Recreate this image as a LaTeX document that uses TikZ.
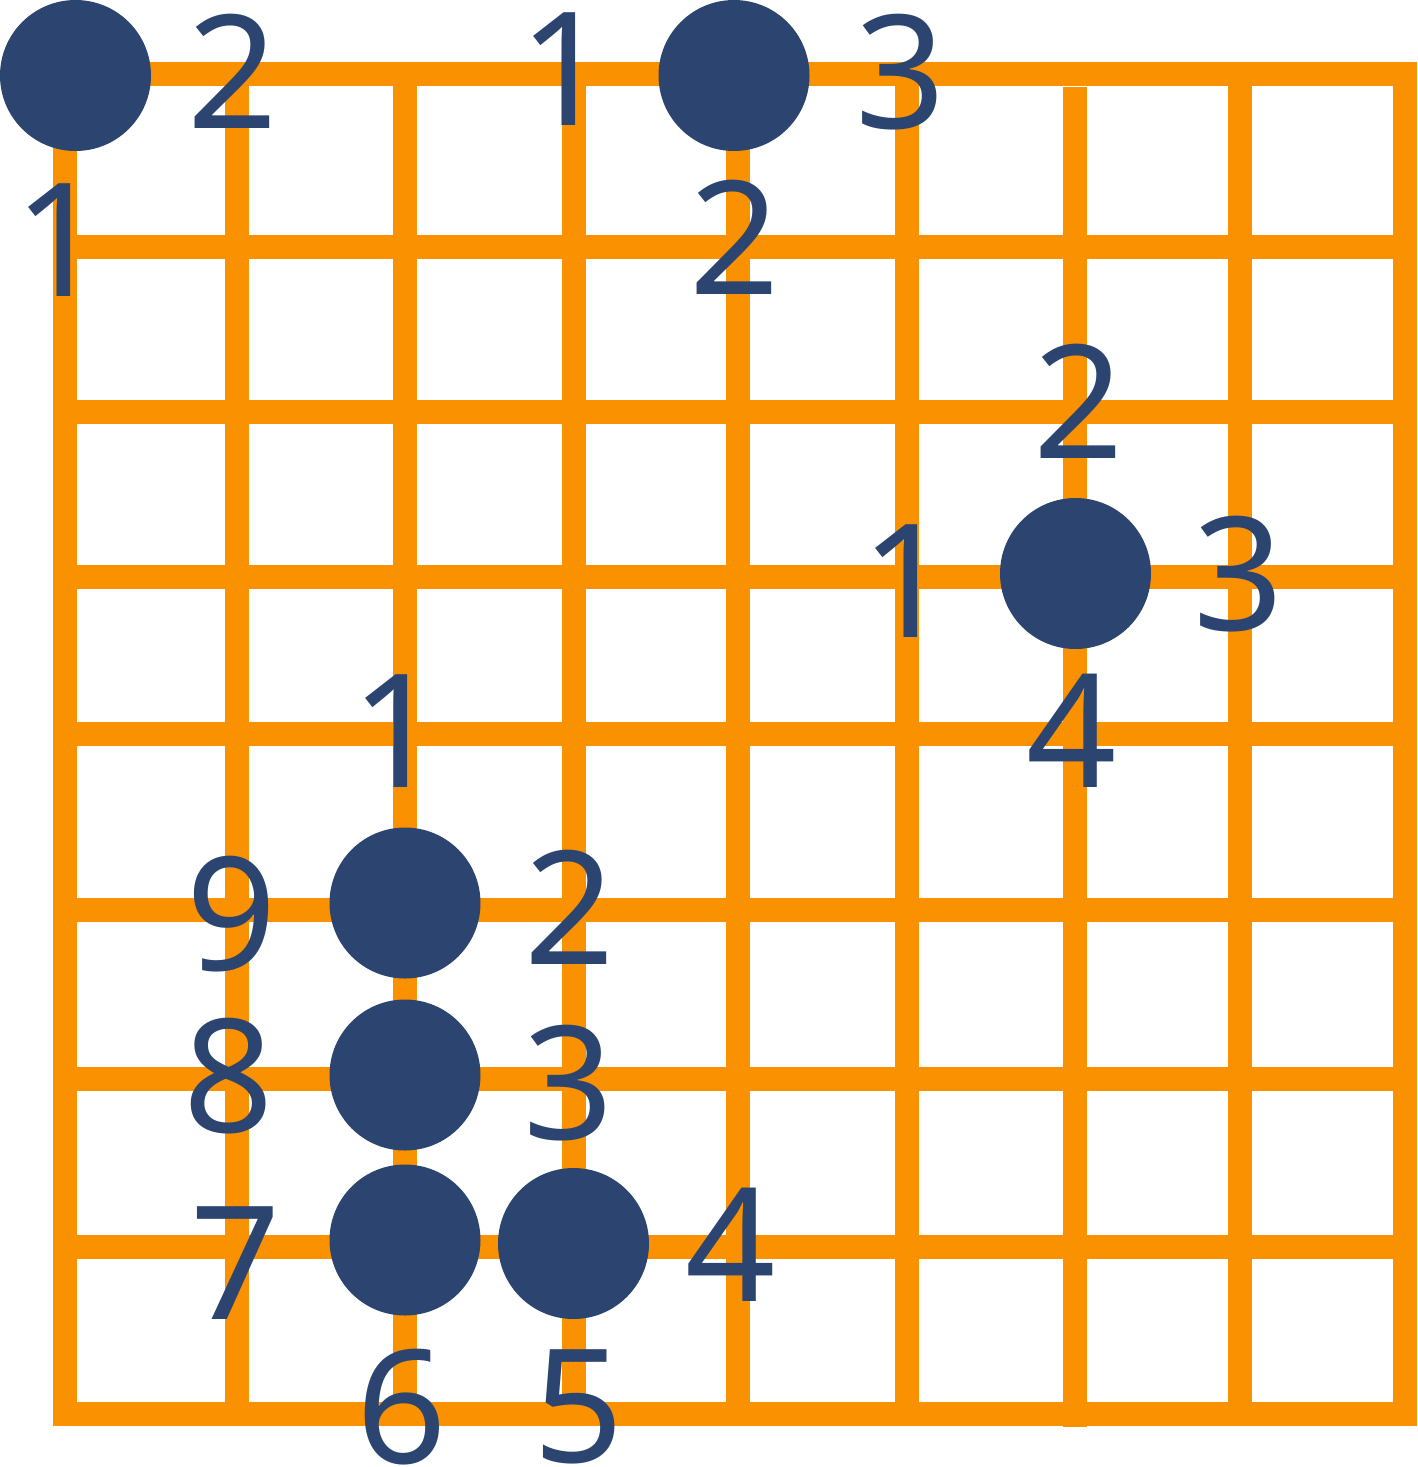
\documentclass[tikz,border=0pt]{standalone}
\usepackage{fontspec}
\setmainfont{Noto Sans}
\definecolor{gridorange}{RGB}{250,145,0}
\definecolor{stonenavy}{RGB}{44,68,112}
\begin{document}
\begin{tikzpicture}[x=1pt,y=-1pt,
  gridline/.style={draw=gridorange,line width=24pt},
  stone/.style={circle,fill=stonenavy,minimum size=151pt,inner sep=0pt,outer sep=0pt},
  lib/.style={text=stonenavy,font=\fontsize{158}{158}\selectfont,inner sep=0pt,outer sep=0pt},
  libone/.style={lib,xshift=5pt}]
\useasboundingbox (0,0) rectangle (1417,1467);
% board lines
\foreach \y in {74,247,412,577,734,910,1079,1247,1414}
  \draw[gridline] (53,\y) -- (1417,\y);
\foreach \x in {65,236.5,405,573.5,738,907,1240,1405}
  \draw[gridline] (\x,62) -- (\x,1426);
\draw[gridline] (1075,87) -- (1075,1427);
% stones
\node[stone] (sA) at (75.5,75.5) {};
\node[stone] (sB) at (734,75.5) {};
\node[stone] (sC) at (1075.5,573.5) {};
\node[stone] (sD) at (405,903) {};
\node[stone] (sE) at (405,1075) {};
\node[stone] (sF) at (405,1240) {};
\node[stone] (sG) at (573.5,1243.5) {};
% liberties of stone A
\node[libone] (a1) at (55,240) {1};
\node[lib] (a2) at (233,71.5) {2};
% liberties of stone B
\node[libone] (b1) at (560,69) {1};
\node[lib] (b2) at (735,237) {2};
\node[lib] (b3) at (901,72.5) {3};
% liberties of stone C
\node[libone] (c1) at (902,581) {1};
\node[lib] (c2) at (1079,401) {2};
\node[lib] (c3) at (1238.6,574) {3};
\node[lib] (c4) at (1071.6,731) {4};
% liberties of the group
\node[libone] (g1) at (392,731) {1};
\node[lib] (g2) at (570,907) {2};
\node[lib] (g3) at (568.5,1083) {3};
\node[lib] (g4) at (731,1244.7) {4};
\node[lib] (g5) at (579,1407) {5};
\node[lib] (g6) at (402,1407) {6};
\node[lib] (g7) at (236,1263) {7};
\node[lib] (g8) at (229,1075.8) {8};
\node[lib] (g9) at (231.7,914) {9};
\end{tikzpicture}
\end{document}
